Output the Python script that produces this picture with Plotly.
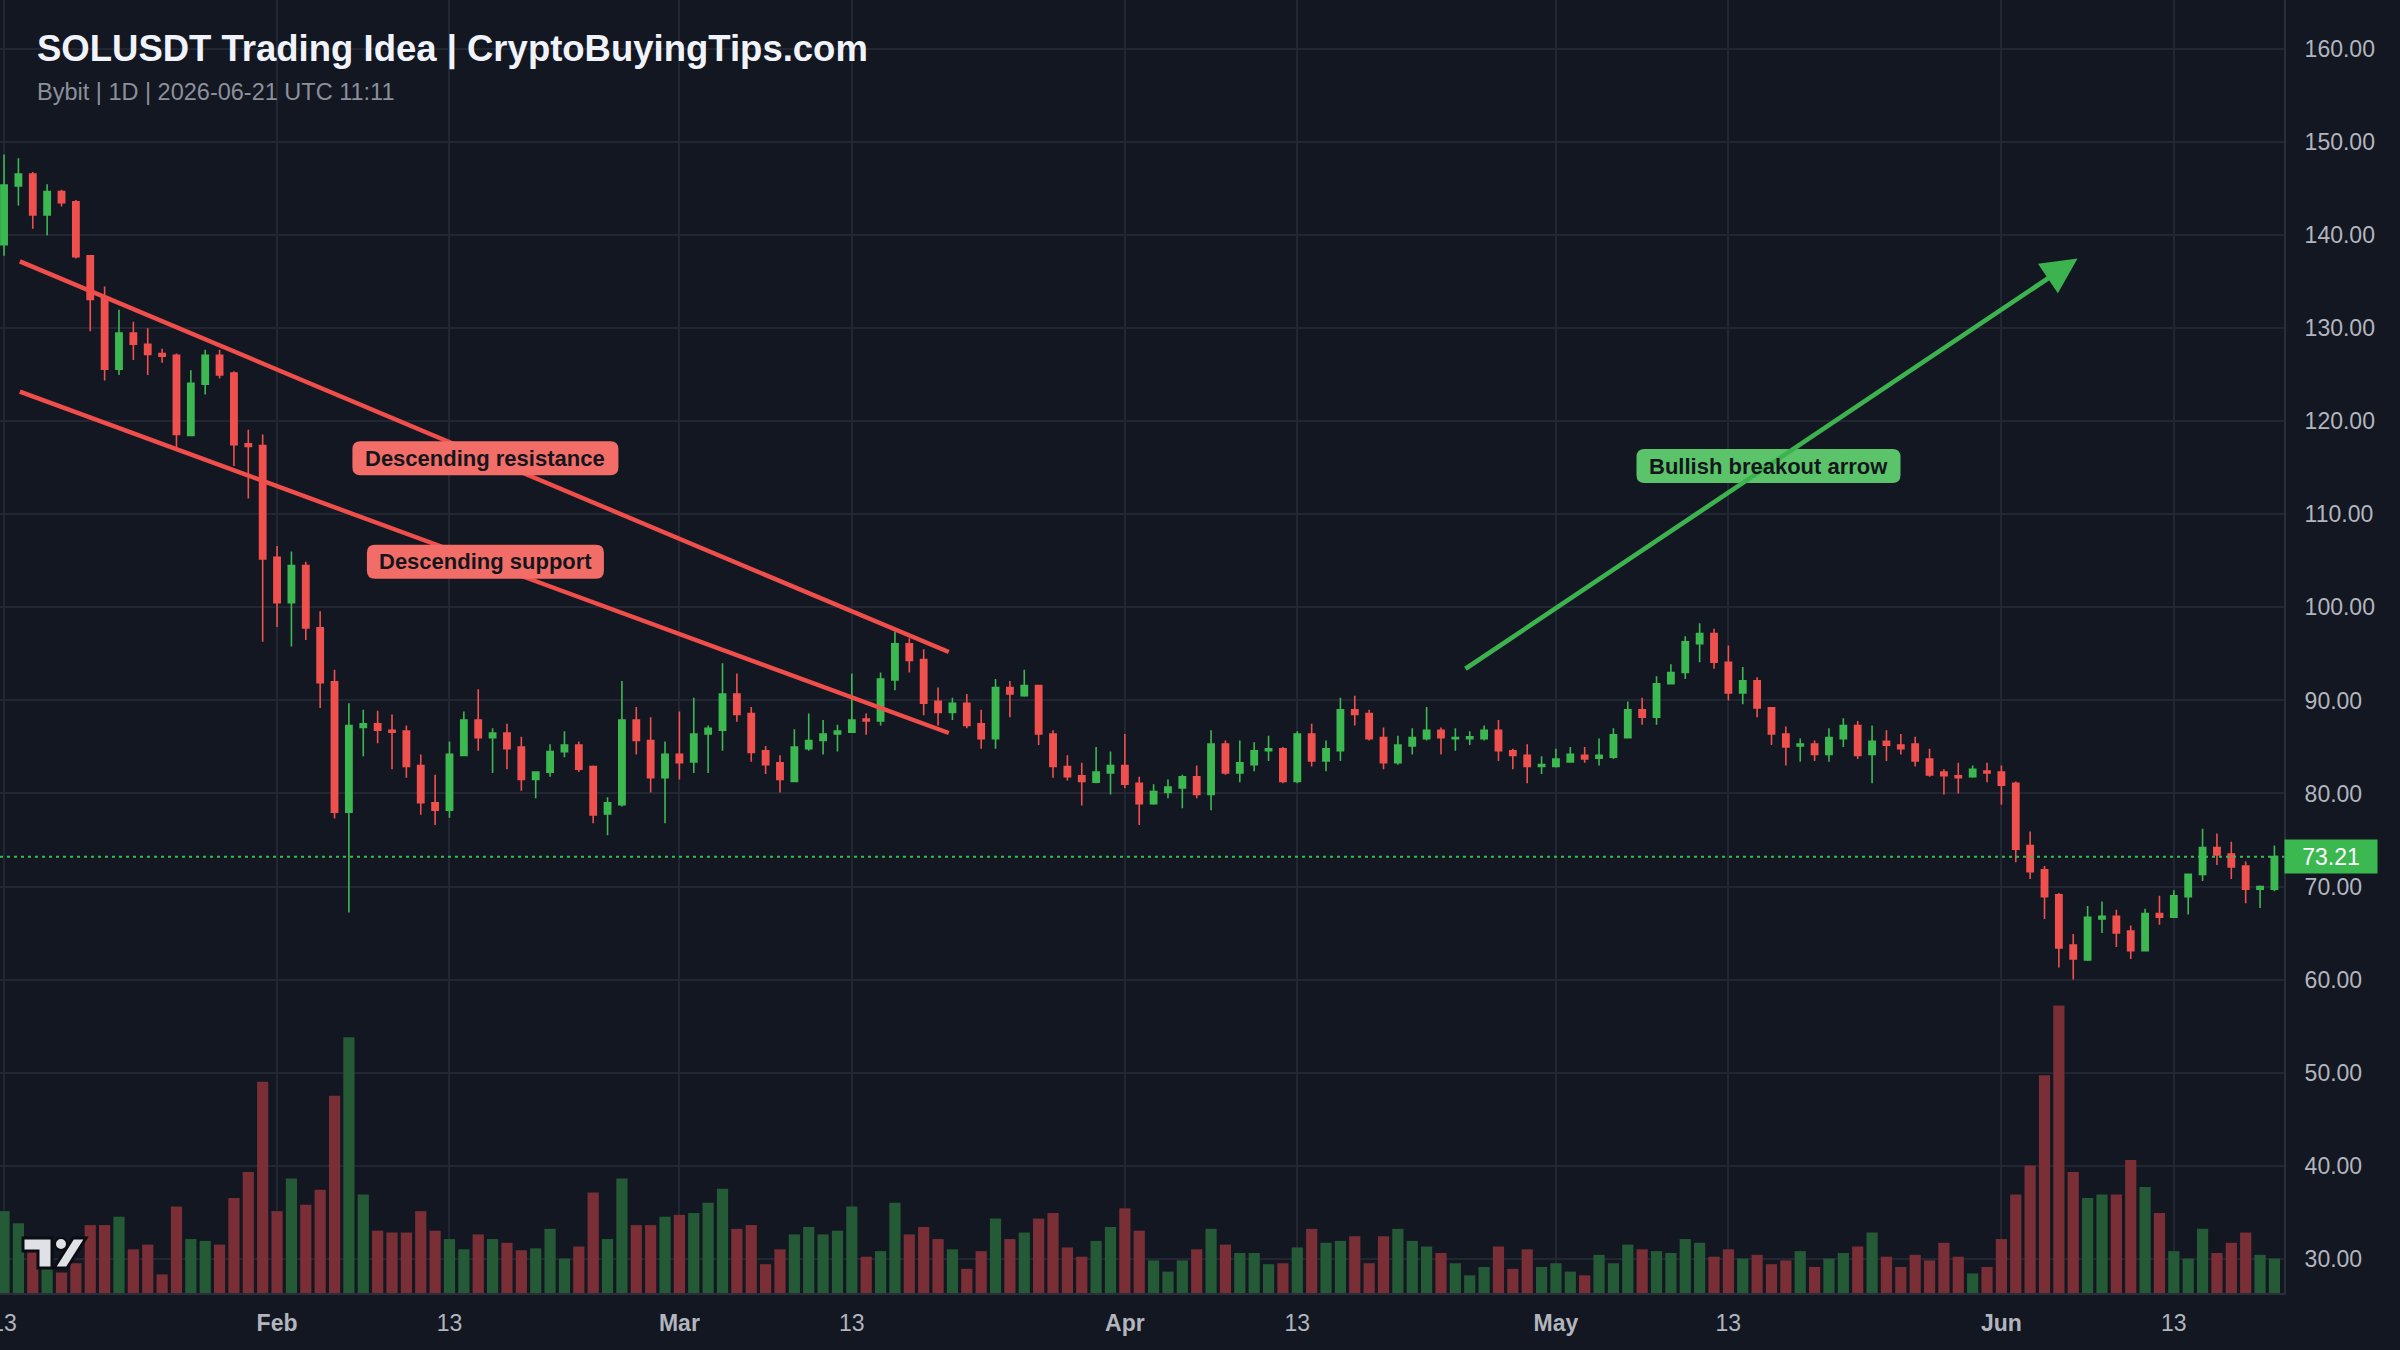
import pandas as pd
import plotly.graph_objects as go

# ---------------- data ----------------
open_vals = [139.0,145.3,146.6,142.2,144.7,143.6,137.8,133.3,125.6,129.5,128.3,127.3,127.1,118.5,124.0,127.1,125.2,117.6,117.4,105.4,
             100.5,104.5,97.8,92.0,78.0,87.1,87.5,86.8,86.7,83.0,79.0,78.2,84.1,87.9,86.0,86.5,85.0,81.5,82.3,84.5,
             85.2,82.9,77.8,78.8,87.9,85.7,81.7,84.2,83.4,86.4,86.8,90.7,88.6,84.6,83.3,81.3,84.8,85.7,86.4,86.6,
             88.0,87.8,92.2,96.1,94.4,89.9,88.7,89.7,87.5,85.9,91.4,90.5,91.6,86.4,82.9,81.9,81.2,82.2,83.0,81.1,
             78.9,80.1,80.6,81.8,79.9,85.3,82.2,83.1,84.6,84.8,81.3,86.4,83.5,84.6,89.0,88.6,86.0,83.3,85.1,85.9,
             86.8,85.9,85.9,85.9,86.8,84.6,84.1,82.9,82.9,83.4,84.1,83.8,83.9,86.0,89.0,88.2,91.8,93.0,96.1,97.2,
             94.1,90.8,92.1,89.2,86.4,85.1,85.3,84.2,85.9,87.3,84.2,85.6,85.2,85.3,83.7,82.3,81.9,81.8,82.4,82.3,
             81.1,74.4,71.8,69.1,63.7,62.1,66.5,66.8,65.2,63.1,67.1,66.7,68.9,71.3,74.2,73.5,72.2,69.7,69.7]
high_vals = [148.7,148.3,146.8,145.5,144.9,143.8,137.9,134.5,132.0,130.7,130.0,127.8,127.3,125.5,127.7,127.7,125.4,119.1,118.6,106.6,
             106.0,104.9,99.6,93.3,89.7,89.0,88.9,88.5,87.3,84.2,82.0,85.6,88.8,91.2,87.0,87.5,86.1,82.4,85.3,86.7,
             85.6,83.0,79.6,92.1,89.3,88.2,85.6,88.8,90.3,87.3,94.0,92.9,89.3,85.1,84.1,86.9,88.6,87.9,87.4,92.9,
             88.6,93.0,97.4,96.7,95.5,91.4,90.3,90.7,89.0,92.3,92.1,93.3,91.7,86.8,84.1,83.3,85.0,84.5,86.4,81.8,
             81.0,81.5,82.0,83.0,86.8,85.7,85.7,85.5,86.2,85.0,86.7,87.5,85.7,90.3,90.5,89.0,87.1,86.2,87.0,89.3,
             87.1,87.0,86.7,87.3,87.9,84.8,85.3,84.0,84.8,85.0,85.0,85.9,87.0,89.9,90.3,92.6,93.9,96.9,98.3,97.7,
             95.9,93.6,92.5,89.3,87.2,85.9,85.7,87.0,88.1,87.8,87.3,86.8,86.4,86.1,84.8,82.6,83.3,83.0,83.3,83.0,
             81.3,75.9,72.2,69.3,64.9,67.9,68.4,67.5,65.8,67.6,69.0,69.6,71.4,76.2,75.7,74.8,72.7,70.1,74.4]
low_vals = [137.8,143.2,140.7,140.0,143.1,137.5,129.7,124.4,125.0,126.6,125.0,126.3,117.1,118.4,122.9,124.6,115.2,111.7,96.3,97.9,
            95.8,96.5,89.2,77.3,67.2,84.0,85.4,82.6,81.7,77.7,76.6,77.4,84.0,84.6,82.2,82.6,80.3,79.5,81.8,83.9,
            82.3,76.8,75.5,78.6,84.2,80.1,76.8,81.5,82.2,82.2,84.6,87.7,83.4,82.1,80.1,81.3,84.6,84.2,84.5,86.6,
            86.3,87.3,91.1,93.0,88.4,87.3,87.9,87.0,84.8,84.8,88.2,90.4,85.2,81.7,81.4,78.7,81.1,79.9,80.6,76.6,
            78.8,79.5,78.4,79.5,78.2,82.0,81.2,82.4,83.5,81.1,81.1,82.9,82.4,83.5,87.3,85.7,82.6,83.1,84.2,85.7,
            84.2,84.6,85.2,85.7,83.5,82.6,81.1,82.1,82.8,83.3,83.3,83.0,83.7,85.9,87.4,87.4,91.8,92.3,94.1,93.4,
            90.0,89.6,88.2,85.2,83.0,83.4,83.5,83.4,85.0,83.7,81.1,83.5,84.2,82.9,81.8,79.9,80.0,81.7,81.2,78.8,
            72.6,70.8,66.5,61.3,60.0,62.0,65.0,63.5,62.2,63.0,65.9,66.6,67.0,70.6,72.3,70.8,68.2,67.7,69.5]
close_vals = [145.4,146.6,142.2,144.7,143.5,137.7,133.1,125.6,129.5,128.3,127.2,127.0,118.6,124.1,127.1,125.0,117.5,117.3,105.2,100.5,
              104.5,97.8,91.9,78.0,87.3,87.5,86.8,86.6,82.9,79.0,78.2,84.2,87.9,86.0,86.5,84.8,81.5,82.3,84.5,85.2,
              82.6,77.7,79.0,87.9,85.7,81.7,84.2,83.3,86.4,87.0,90.7,88.5,84.4,83.1,81.5,85.0,85.7,86.4,86.7,87.9,
              87.8,92.3,96.1,94.3,89.7,88.7,89.7,87.3,85.9,91.4,90.7,91.6,86.4,82.9,81.8,81.3,82.3,83.0,81.0,78.9,
              80.2,80.7,81.8,79.9,85.3,82.2,83.3,84.6,84.8,81.3,86.4,83.5,84.8,89.0,88.5,85.9,83.3,85.2,86.0,86.8,
              86.0,86.0,86.1,86.8,84.6,84.1,82.9,83.1,83.7,84.2,83.7,84.1,86.3,89.0,88.2,91.8,93.0,96.3,97.2,94.1,
              90.8,92.1,89.2,86.4,85.0,85.3,84.2,86.0,87.3,84.1,85.6,85.2,84.8,83.5,82.0,81.9,81.7,82.6,82.2,80.9,
              74.0,71.6,68.9,63.4,62.2,66.7,66.8,65.0,63.1,67.1,66.7,69.0,71.3,74.2,73.4,72.1,69.7,70.0,73.21]
volume_vals = [8.8,7.5,4.7,3.7,2.2,3.2,7.3,7.3,8.2,4.7,5.2,2.0,9.3,5.8,5.6,5.2,10.2,13.0,22.7,8.8,
               12.3,9.5,11.1,21.2,27.5,10.6,6.7,6.5,6.5,8.8,6.7,5.8,4.7,6.3,5.8,5.4,4.6,4.8,6.9,3.7,
               5.0,10.8,5.8,12.3,7.3,7.3,8.2,8.4,8.6,9.7,11.2,6.9,7.3,3.1,4.7,6.3,7.1,6.3,6.7,9.3,
               3.9,4.5,9.7,6.3,7.1,5.8,4.7,2.6,4.5,8.0,5.8,6.5,8.0,8.6,4.9,3.9,5.6,7.1,9.1,6.7,
               3.5,2.3,3.5,4.7,6.9,5.2,4.3,4.3,3.1,3.2,4.9,6.9,5.4,5.6,6.1,3.2,6.1,6.9,5.6,5.0,
               4.3,3.2,1.9,2.8,5.0,2.6,4.7,2.8,3.2,2.3,1.9,4.1,3.2,5.2,4.7,4.5,4.3,5.8,5.4,3.9,
               4.7,3.7,4.1,3.1,3.5,4.5,2.8,3.7,4.3,5.0,6.5,3.9,2.8,4.1,3.5,5.4,3.9,2.1,2.8,5.8,
               10.6,13.7,23.4,30.9,13.0,10.2,10.6,10.6,14.3,11.4,8.6,4.5,3.7,6.9,4.3,5.4,6.5,4.1,3.7]
dates = pd.date_range("2026-01-13", periods=len(close_vals), freq="D")

price_ticks = [30, 40, 50, 60, 70, 80, 90, 100, 110, 120, 130, 140, 150, 160]
date_ticks = ["2026-01-13", "2026-02-01", "2026-02-13", "2026-03-01", "2026-03-13", "2026-04-01",
              "2026-04-13", "2026-05-01", "2026-05-13", "2026-06-01", "2026-06-13"]
date_tick_labels = ["13", "<b>Feb</b>", "13", "<b>Mar</b>", "13", "<b>Apr</b>", "13", "<b>May</b>", "13", "<b>Jun</b>", "13"]
last_price = 73.21

resistance_line = [("2026-01-14 02:24", 137.2), ("2026-03-19 18:00", 95.2)]
support_line = [("2026-01-14 02:24", 123.2), ("2026-03-19 18:00", 86.5)]
breakout_arrow = [("2026-04-24 14:24", 93.3), ("2026-06-06 07:12", 137.5)]
# text, x, y, background, box width px
labels = [("Descending resistance", "2026-02-15 12:00", 116.05, "#f26d68", 266),
          ("Descending support", "2026-02-15 12:00", 104.9, "#f26d68", 237),
          ("Bullish breakout arrow", "2026-05-15 19:00", 115.2, "#5bc46b", 264)]

# ---------------- style ----------------
W, H = 2400, 1350
ML, MR, MT, MB = 0, 116, 0, 57
PW, PH = W - ML - MR, H - MT - MB
BG = "#131722"
GRID = "#222633"
AXLINE = "#2a2e39"
UP, DOWN = "#3cb851", "#f0504d"
VUP, VDOWN = "#245a35", "#792f35"
FONT = "Liberation Sans, Arial, sans-serif"
TICKC = "#b2b5be"
X_RANGE = ["2026-01-12 17:16", "2026-06-20 16:00"]
Y_RANGE = [26.3, 165.3]
LABEL_H = 34

vol_colors = [VUP if c >= o else VDOWN for o, c in zip(open_vals, close_vals)]

fig = go.Figure()
fig.add_trace(go.Bar(x=dates, y=volume_vals, marker=dict(color=vol_colors, line=dict(width=0)),
                     yaxis="y2", showlegend=False, hoverinfo="skip"))
fig.add_trace(go.Candlestick(x=dates, open=open_vals, high=high_vals, low=low_vals, close=close_vals,
                             increasing=dict(line=dict(color=UP, width=1.6), fillcolor=UP),
                             decreasing=dict(line=dict(color=DOWN, width=1.6), fillcolor=DOWN),
                             whiskerwidth=0, showlegend=False))

def px(x):
    return (x - ML) / PW
def py(y):
    return 1 - (y - MT) / PH
t0, t1 = pd.Timestamp(X_RANGE[0]), pd.Timestamp(X_RANGE[1])
def xfrac(t):
    return (pd.Timestamp(t) - t0) / (t1 - t0)
def yfrac(v):
    return (v - Y_RANGE[0]) / (Y_RANGE[1] - Y_RANGE[0])
def round_rect(cx, cy, w, h, r):
    hw, hh = w / 2 / PW, h / 2 / PH
    rx, ry = r / PW, r / PH
    x0, x1, y0, y1 = cx - hw, cx + hw, cy - hh, cy + hh
    return ("M{a},{y0} L{b},{y0} Q{x1},{y0} {x1},{c} L{x1},{d} Q{x1},{y1} {b},{y1} "
            "L{a},{y1} Q{x0},{y1} {x0},{d} L{x0},{c} Q{x0},{y0} {a},{y0} Z").format(
        a=x0 + rx, b=x1 - rx, c=y0 + ry, d=y1 - ry, x0=x0, x1=x1, y0=y0, y1=y1)

shapes = []
for ln in (resistance_line, support_line):
    shapes.append(dict(type="line", xref="x", yref="y", x0=ln[0][0], y0=ln[0][1], x1=ln[1][0], y1=ln[1][1],
                       line=dict(color="#f04e4b", width=4.4)))
shapes.append(dict(type="line", xref="paper", yref="y", x0=0, x1=1, y0=last_price, y1=last_price,
                   line=dict(color="#3cb851", width=2, dash="3px,4px")))
for txt, lx, ly, col, bw in labels:
    shapes.append(dict(type="path", xref="paper", yref="paper", layer="above",
                       path=round_rect(xfrac(lx), yfrac(ly), bw, LABEL_H, 8),
                       fillcolor=col, line=dict(width=0)))

# TradingView-like logo
logo_fill = "#dfe1e6"
logo_path = "M{},{} L{},{} L{},{} L{},{} L{},{} L{},{} Z".format(
    px(23), py(1238), px(52), py(1238), px(52), py(1268), px(38), py(1268), px(38), py(1251), px(23), py(1251))
shapes.append(dict(type="path", xref="paper", yref="paper", path=logo_path, fillcolor=logo_fill,
                   line=dict(color="#0b0d12", width=3)))
slash_path = "M{},{} L{},{} L{},{} L{},{} Z".format(
    px(54), py(1268), px(67), py(1268), px(86), py(1238), px(73), py(1238))
shapes.append(dict(type="path", xref="paper", yref="paper", path=slash_path, fillcolor=logo_fill,
                   line=dict(color="#0b0d12", width=3)))
shapes.append(dict(type="circle", xref="paper", yref="paper", x0=px(55), x1=px(67), y0=py(1250), y1=py(1238),
                   fillcolor=logo_fill, line=dict(color="#0b0d12", width=2)))

annotations = []
annotations.append(dict(x=breakout_arrow[1][0], y=breakout_arrow[1][1], ax=breakout_arrow[0][0], ay=breakout_arrow[0][1],
                        xref="x", yref="y", axref="x", ayref="y", text="", showarrow=True,
                        arrowhead=2, arrowsize=1.55, arrowwidth=4.6, arrowcolor="#3db34f", standoff=0))
for txt, lx, ly, col, bw in labels:
    annotations.append(dict(x=lx, y=ly, xref="x", yref="y", text="<b>%s</b>" % txt, showarrow=False,
                            font=dict(family=FONT, size=22, color="#14161c"),
                            xanchor="center", yanchor="middle"))
annotations.append(dict(x=px(35), y=py(49), xref="paper", yref="paper", xanchor="left", yanchor="middle",
                        text="<b>SOLUSDT Trading Idea | CryptoBuyingTips.com</b>", showarrow=False,
                        font=dict(family=FONT, size=36.5, color="#f0f3fa")))
annotations.append(dict(x=px(35), y=py(92), xref="paper", yref="paper", xanchor="left", yanchor="middle",
                        text="Bybit | 1D | 2026-06-21 UTC 11:11", showarrow=False,
                        font=dict(family=FONT, size=23.5, color="#8c909a")))
annotations.append(dict(x=1, y=last_price, xref="paper", yref="y", xanchor="left", yanchor="middle",
                        text="%.2f" % last_price, showarrow=False, bgcolor="#3cb851", width=88, height=29,
                        borderpad=2, align="center", font=dict(family=FONT, size=23, color="#ffffff")))

fig.update_layout(
    width=W, height=H, autosize=False,
    margin=dict(l=ML, r=MR, t=MT, b=MB, pad=0, autoexpand=False),
    paper_bgcolor=BG, plot_bgcolor=BG,
    showlegend=False, hovermode=False,
    boxgap=0.38, bargap=0.22,
    shapes=shapes, annotations=annotations,
    xaxis=dict(type="date", range=X_RANGE, automargin=False,
               tickvals=date_ticks, ticktext=date_tick_labels,
               tickfont=dict(family=FONT, size=23, color=TICKC), ticklabeloverflow="allow",
               showgrid=True, gridcolor=GRID, gridwidth=1.5,
               showline=True, linecolor=AXLINE, linewidth=2,
               ticks="outside", ticklen=8, tickcolor=BG, zeroline=False,
               rangeslider=dict(visible=False), fixedrange=True),
    yaxis=dict(side="right", range=Y_RANGE, tickvals=price_ticks, automargin=False,
               ticktext=["%.2f" % v for v in price_ticks],
               tickfont=dict(family=FONT, size=23, color=TICKC),
               showgrid=True, gridcolor=GRID, gridwidth=1.5,
               showline=True, linecolor=AXLINE, linewidth=2,
               ticks="outside", ticklen=14, tickcolor=BG, zeroline=False, fixedrange=True),
    yaxis2=dict(overlaying="y", range=[0, Y_RANGE[1] - Y_RANGE[0]], visible=False, fixedrange=True),
)

fig.write_html("out.html", config={"displayModeBar": False},
               post_script="document.body.style.margin='0px';document.body.style.backgroundColor='#131722';"
                           "document.body.style.overflow='hidden';")
